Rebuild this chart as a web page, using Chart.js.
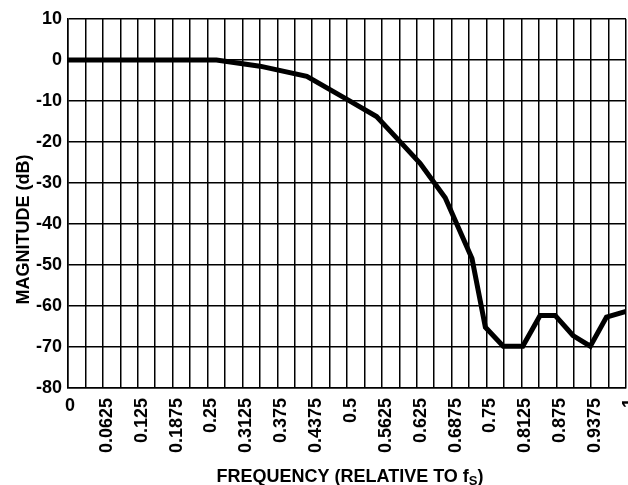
<!DOCTYPE html>
<html>
<head>
<meta charset="utf-8">
<title>Magnitude response</title>
<script src="https://cdn.jsdelivr.net/npm/chart.js@4/dist/chart.umd.min.js"></script>
<style>
    html, body { margin: 0; padding: 0; background: #fff; overflow: hidden; }
    #chart { display: block; }
</style>
</head>
<body>
<canvas id="chart" width="628" height="485"></canvas>
<script>
'use strict';

// frequency, relative to fs
let frequency = [0, 0.266, 0.344, 0.428, 0.5, 0.553, 0.595, 0.631, 0.676, 0.724,
    0.748, 0.78, 0.815, 0.846, 0.873, 0.905, 0.936, 0.965, 1];

// magnitude, dB
let magnitude = [0, 0, -1.5, -4.0, -9.6, -13.8, -19.9, -25.2, -33.6, -48.4,
    -65.2, -69.8, -69.8, -62.3, -62.3, -67.2, -69.8, -62.7, -61.3];

let xTickLabels = ['0', '0.0625', '0.125', '0.1875', '0.25', '0.3125', '0.375', '0.4375',
    '0.5', '0.5625', '0.625', '0.6875', '0.75', '0.8125', '0.875', '0.9375', '1'];

let yTickLabels = ['-80', '-70', '-60', '-50', '-40', '-30', '-20', '-10', '0', '10'];

let xTitle = 'FREQUENCY (RELATIVE TO f',
    xTitleSub = 'S',
    yTitle = 'MAGNITUDE (dB)';

const FONT = '"Liberation Sans", Arial, sans-serif';

function buildPoints() {
    return frequency.map(function (f, i) {
        return { x: f, y: magnitude[i] };
    });
}

// axis titles and the upright "0" under the origin
let titlesPlugin = {
    id: 'titles',
    afterDraw: function (chart) {
        var ctx = chart.ctx;
        var area = chart.chartArea;
        var xScale = chart.scales.x;

        ctx.save();
        ctx.fillStyle = '#000';

        // "0" sits upright, unlike the other tick labels
        ctx.font = 'bold 18px ' + FONT;
        ctx.textAlign = 'center';
        ctx.textBaseline = 'alphabetic';
        ctx.fillText(xTickLabels[0], xScale.getPixelForValue(0) + 2, area.bottom + 23);

        // x title with a subscript S
        var mainFont = 'bold 18px ' + FONT,
            subFont = 'bold 13px ' + FONT;
        ctx.font = mainFont;
        var wMain = ctx.measureText(xTitle).width,
            wClose = ctx.measureText(')').width;
        ctx.font = subFont;
        var wSub = ctx.measureText(xTitleSub).width;
        var total = wMain + wSub + wClose;
        var x0 = (area.left + area.right) / 2 + 3 - total / 2,
            baseY = area.bottom + 94;

        ctx.textAlign = 'left';
        ctx.font = mainFont;
        ctx.fillText(xTitle, x0, baseY);
        ctx.font = subFont;
        ctx.fillText(xTitleSub, x0 + wMain, baseY + 3);
        ctx.font = mainFont;
        ctx.fillText(')', x0 + wMain + wSub, baseY);

        // y title, rotated
        ctx.translate(29, (area.top + area.bottom) / 2 + 26);
        ctx.rotate(-Math.PI / 2);
        ctx.textAlign = 'center';
        ctx.fillText(yTitle, 0, 0);

        ctx.restore();
    }
};

function drawChart() {
    var canvas = document.getElementById('chart');
    var ctx = canvas.getContext('2d');

    var tickFont = { family: FONT, size: 18, weight: 'bold' };

    return new Chart(ctx, {
        type: 'line',
        data: {
            datasets: [{
                data: buildPoints(),
                borderColor: '#000',
                borderWidth: 5,
                pointRadius: 0,
                tension: 0,
                fill: false
            }]
        },
        options: {
            responsive: false,
            animation: false,
            events: [],
            layout: { padding: { left: 0, top: 19, right: 2, bottom: 0 } },
            plugins: {
                legend: { display: false },
                tooltip: { enabled: false }
            },
            scales: {
                x: {
                    type: 'linear',
                    min: 0,
                    max: 1,
                    grid: { color: '#000', lineWidth: 1.5, drawTicks: false },
                    border: { color: '#000', width: 1.5 },
                    ticks: {
                        stepSize: 0.03125,
                        autoSkip: false,
                        minRotation: 90,
                        maxRotation: 90,
                        padding: 10,
                        labelOffset: 4,
                        color: '#000',
                        font: tickFont,
                        callback: function (value, index) {
                            // only every other grid line is labelled; "0" is drawn by the plugin
                            if (index === 0 || index % 2) {
                                return '';
                            }
                            return xTickLabels[index / 2];
                        }
                    },
                    afterFit: function (scale) {
                        scale.height = 97;
                        scale.paddingLeft = 0;
                        scale.paddingRight = 0;
                    }
                },
                y: {
                    min: -80,
                    max: 10,
                    grid: { color: '#000', lineWidth: 1.5, drawTicks: false },
                    border: { color: '#000', width: 1.5 },
                    ticks: {
                        stepSize: 10,
                        padding: 6,
                        color: '#000',
                        font: tickFont,
                        callback: function (value, index) {
                            return yTickLabels[index];
                        }
                    },
                    afterFit: function (scale) {
                        scale.width = 68;
                    }
                }
            }
        },
        plugins: [titlesPlugin]
    });
}

drawChart();
</script>
</body>
</html>
